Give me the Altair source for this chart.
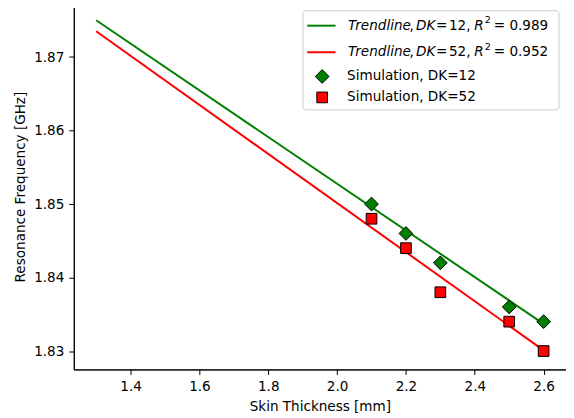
import altair as alt
import pandas as pd

# ---- data ----
sim_x = [2.1, 2.2, 2.3, 2.5, 2.6]
sim_dk12 = [1.850, 1.846, 1.842, 1.836, 1.834]
sim_dk52 = [1.848, 1.844, 1.838, 1.834, 1.830]

trend_x = [1.3, 2.6]
trend_dk12 = [1.8750, 1.8337]
trend_dk52 = [1.8735, 1.8301]

dk_values = ["12", "52"]
r2_values = ["0.989", "0.952"]

x_ticks = [1.4, 1.6, 1.8, 2.0, 2.2, 2.4, 2.6]
y_ticks = [1.83, 1.84, 1.85, 1.86, 1.87]

FONT = "DejaVu Sans"
FS = 13.6
GREEN = "#008000"
RED = "#ff0000"

trend_df = pd.DataFrame(
    {"x": trend_x * 2, "y": trend_dk12 + trend_dk52,
     "dk": [dk_values[0]] * 2 + [dk_values[1]] * 2}
)
sim12_df = pd.DataFrame({"x": sim_x, "y": sim_dk12})
sim52_df = pd.DataFrame({"x": sim_x, "y": sim_dk52})

xs = alt.Scale(domain=[1.235, 2.665], nice=False, zero=False)
ys = alt.Scale(domain=[1.8275, 1.87725], nice=False, zero=False)

X = alt.X("x:Q", scale=xs, title="Skin Thickness [mm]",
          axis=alt.Axis(values=x_ticks, format=".1f", titlePadding=7))
Y = alt.Y("y:Q", scale=ys, title="Resonance Frequency [GHz]",
          axis=alt.Axis(values=y_ticks, format=".2f", titlePadding=6))

lines = alt.Chart(trend_df).mark_line(strokeWidth=2, clip=True).encode(
    x=X, y=Y,
    color=alt.Color("dk:N", scale=alt.Scale(domain=dk_values, range=[GREEN, RED]), legend=None),
)

pts12 = alt.Chart(sim12_df).mark_point(
    shape="diamond", filled=True, fill=GREEN, stroke="black", strokeWidth=1,
    size=190, opacity=1).encode(x=X, y=Y)
pts52 = alt.Chart(sim52_df).mark_point(
    shape="square", filled=True, fill=RED, stroke="black", strokeWidth=1,
    size=115, opacity=1).encode(x=X, y=Y)

one = alt.Data(values=[{"a": 1}])

# plot-area origin offset: image (74, 3)
def px(v):
    return v - 74

def py(v):
    return v - 3

def txt(s, x, y, style="normal", size=FS):
    return alt.Chart(one).mark_text(
        align="left", baseline="middle", font=FONT, fontSize=size,
        fontStyle=style, color="black").encode(
        x=alt.value(px(x)), y=alt.value(py(y)), text=alt.value(s))

legend_box = alt.Chart(one).mark_rect(
    fill="white", fillOpacity=0.8, stroke="#cccccc", strokeWidth=1, cornerRadius=3
).encode(x=alt.value(px(304)), x2=alt.value(px(561)),
         y=alt.value(py(10)), y2=alt.value(py(109.5)))

legend_layers = [legend_box]
row_y = [25, 51.7]
for i, col in enumerate([GREEN, RED]):
    yy = row_y[i]
    legend_layers.append(
        alt.Chart(one).mark_rule(color=col, strokeWidth=2).encode(
            x=alt.value(px(308.3)), x2=alt.value(px(336.7)), y=alt.value(py(yy))))
    legend_layers += [
        txt("Trendline", 349.3, yy, "italic"),
        txt(",", 411, yy),
        txt("DK", 417.5, yy, "italic"),
        txt("=", 437.5, yy),
        txt(dk_values[i] + ",", 450.5, yy),
        txt("R", 476, yy, "italic"),
        txt("2", 486.5, yy - 5.5, "normal", 9.6),
        txt("= " + r2_values[i], 495.5, yy),
    ]

legend_layers.append(
    alt.Chart(one).mark_point(shape="diamond", filled=True, fill=GREEN, stroke="black",
                              strokeWidth=1, size=190, opacity=1).encode(
        x=alt.value(px(323.3)), y=alt.value(py(76))))
legend_layers.append(
    alt.Chart(one).mark_point(shape="square", filled=True, fill=RED, stroke="black",
                              strokeWidth=1, size=115, opacity=1).encode(
        x=alt.value(px(323.3)), y=alt.value(py(97))))
legend_layers.append(txt("Simulation, DK=" + dk_values[0], 348.3, 76))
legend_layers.append(txt("Simulation, DK=" + dk_values[1], 348.3, 97))

chart = alt.layer(lines, pts12, pts52, *legend_layers).properties(
    width=494, height=367,
    autosize=alt.AutoSizeParams(type="none"),
    padding={"left": 66, "top": -5, "right": 0, "bottom": 45},
).configure_view(stroke="black", strokeWidth=1).configure_axis(
    grid=False, labelFont=FONT, titleFont=FONT, labelFontSize=FS, titleFontSize=FS,
    titleFontWeight="normal", labelColor="black", titleColor="black",
    domainColor="black", tickColor="black", tickSize=5, labelPadding=5,
    domainWidth=1, tickWidth=1,
)

chart.save("out.html", embed_options={"renderer": "svg", "actions": False})
